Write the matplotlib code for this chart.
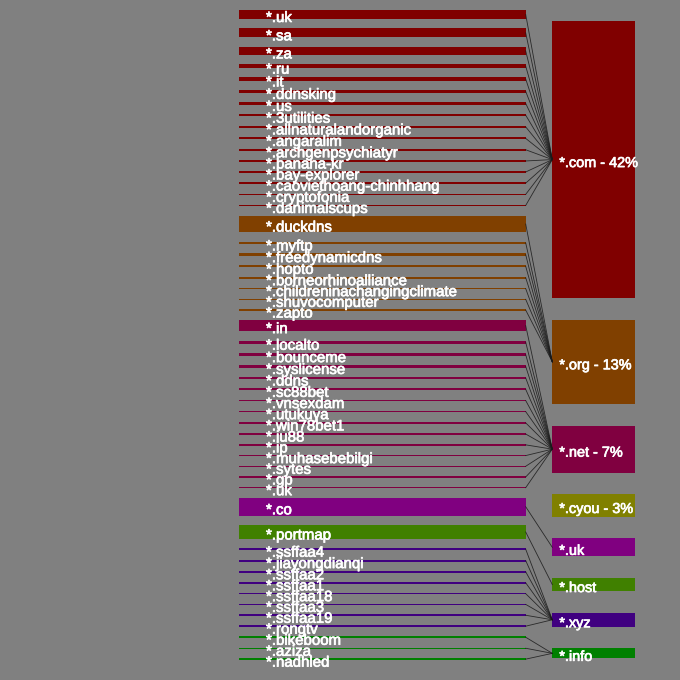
import matplotlib
matplotlib.use("Agg")
import matplotlib.pyplot as plt
import matplotlib.patheffects as pe

# top-level domains (right column), share of total in percent
tlds = ["*.com", "*.org", "*.net", "*.cyou", "*.uk", "*.host", "*.xyz", "*.info"]
tld_share = [41.9, 12.8, 7.1, 3.4, 2.7, 2.0, 2.1, 1.5]
tld_colors = ["#800000", "#804000", "#800040", "#808000",
              "#800080", "#408000", "#400080", "#008000"]

# second-level domains (left column), same units, grouped by parent tld
com_names = ["*.uk", "*.sa", "*.za", "*.ru", "*.it", "*.ddnsking", "*.us",
             "*.3utilities", "*.allnaturalandorganic", "*.angaralim",
             "*.archgenpsychiatyr", "*.banana-kr", "*.bay-explorer",
             "*.caoviethoang-chinhhang", "*.cryptofonia", "*.danimalscups"]
com_share = [1.36, 1.36, 1.27, 0.52, 0.52, 0.41, 0.39, 0.35, 0.35, 0.30,
             0.30, 0.26, 0.24, 0.30, 0.26, 0.26]

org_names = ["*.duckdns", "*.myftp", "*.freedynamicdns", "*.hopto",
             "*.borneorhinoalliance", "*.childreninachangingclimate",
             "*.shuvocomputer", "*.zapto"]
org_share = [2.53, 0.36, 0.35, 0.35, 0.26, 0.21, 0.20, 0.21]

net_names = ["*.in", "*.localto", "*.bounceme", "*.syslicense", "*.ddns",
             "*.sc88bet", "*.vnsexdam", "*.utukuya", "*.win78bet1", "*.iu88",
             "*.ip", "*.muhasebebilgi", "*.sytes", "*.gp", "*.uk"]
net_share = [1.67, 0.52, 0.39, 0.36, 0.30, 0.30, 0.26, 0.26, 0.30, 0.24,
             0.21, 0.20, 0.20, 0.20, 0.21]

uk_names = ["*.co"]
uk_share = [2.73]

host_names = ["*.portmap"]
host_share = [2.08]

xyz_names = ["*.ssffaa4", "*.jiayongdianqi", "*.ssffaa2", "*.ssffaa1",
             "*.ssffaa18", "*.ssffaa3", "*.ssffaa19", "*.rongtv"]
xyz_share = [0.30, 0.30, 0.26, 0.24, 0.21, 0.20, 0.26, 0.21]

info_names = ["*.bikeboom", "*.aziza", "*.nadhled"]
info_share = [0.30, 0.20, 0.26]

groups = [
    (0, com_names, com_share),
    (1, org_names, org_share),
    (2, net_names, net_share),
    (4, uk_names, uk_share),
    (5, host_names, host_share),
    (6, xyz_names, xyz_share),
    (7, info_names, info_share),
]

# layout (pixel space of a 680x680 canvas)
PX = 6.6                    # pixels per percent
LEFT_X0, LEFT_X1 = 239.3, 525.7
RIGHT_X0, RIGHT_X1 = 552.3, 635.3
LEFT_TOP, LEFT_BOTTOM = 10.0, 660.0
RIGHT_TOP, RIGHT_BOTTOM = 21.3, 658.3
BG = "#808080"
FONT = ["Liberation Sans", "DejaVu Sans"]
FS = 10.8
heavy = [pe.withStroke(linewidth=0.5, foreground="white")]

fig = plt.figure(figsize=(6.8, 6.8), dpi=100, facecolor=BG)
ax = fig.add_axes([0, 0, 1, 1])
ax.set_facecolor(BG)
ax.set_xlim(0, 680)
ax.set_ylim(680, 0)
ax.axis("off")

# right column
r_heights = [s * PX for s in tld_share]
r_gap = (RIGHT_BOTTOM - RIGHT_TOP - sum(r_heights)) / (len(tlds) - 1)
r_centers = []
y = RIGHT_TOP
for name, share, h, c in zip(tlds, tld_share, r_heights, tld_colors):
    ax.bar(RIGHT_X0, h, width=RIGHT_X1 - RIGHT_X0, bottom=y, align="edge",
           color=c, linewidth=0)
    r_centers.append(y + h / 2)
    label = f"{name} - {share:.0f}%" if share >= 3 else name
    ax.text(RIGHT_X0 + 7, y + h / 2 + 7.5, label, color="white", fontsize=10.4,
            family=FONT, va="baseline", ha="left", path_effects=heavy)
    y += h + r_gap

# left column
n_left = sum(len(g[1]) for g in groups)
l_total = sum(sum(g[2]) for g in groups) * PX
l_gap = (LEFT_BOTTOM - LEFT_TOP - l_total) / (n_left - 1)
y = LEFT_TOP
for parent, names, shares in groups:
    for name, share in zip(names, shares):
        h = share * PX
        ax.bar(LEFT_X0, h, width=LEFT_X1 - LEFT_X0, bottom=y, align="edge",
               color=tld_colors[parent], linewidth=0)
        cy = y + h / 2
        ax.plot([LEFT_X1, RIGHT_X0], [cy, r_centers[parent]],
                color="#1a1a1a", linewidth=0.6, alpha=0.85)
        ax.text(LEFT_X0 + 26.7, cy + 7.5, name, color="white", fontsize=FS,
                family=FONT, va="baseline", ha="left", path_effects=heavy)
        y += h + l_gap

fig.savefig("out.png", dpi=100, facecolor=BG)
